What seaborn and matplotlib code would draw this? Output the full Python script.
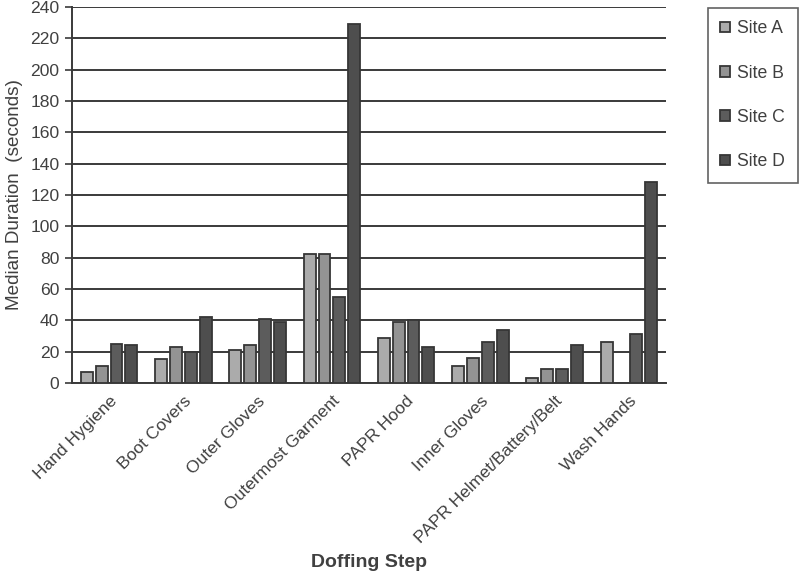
import pandas as pd
import numpy as np
import matplotlib
matplotlib.use("Agg")
import matplotlib.pyplot as plt
import seaborn as sns

# データ
steps = ["Hand Hygiene", "Boot Covers", "Outer Gloves", "Outermost Garment",
         "PAPR Hood", "Inner Gloves", "PAPR Helmet/Battery/Belt", "Wash Hands"]
sites = ["Site A", "Site B", "Site C", "Site D"]
site_a = [7, 15, 21, 82, 29, 11, 3, 26]
site_b = [11, 23, 24, 82, 39, 16, 9, np.nan]
site_c = [25, 20, 41, 55, 40, 26, 9, 31]
site_d = [24, 42, 39, 229, 23, 34, 24, 128]
colors = ["#ababab", "#939393", "#5c5c5c", "#4e4e4e"]

df = pd.DataFrame({"step": steps * 4,
                   "site": np.repeat(sites, len(steps)),
                   "value": site_a + site_b + site_c + site_d})

sns.set_style("white")
plt.rcParams["font.family"] = ["Liberation Sans", "DejaVu Sans"]

fig = plt.figure(figsize=(8, 5.75), dpi=100)
ax = fig.add_axes([0.09, 0.334, 0.7425, 0.654])

sns.barplot(data=df, x="step", y="value", hue="site", order=steps,
            hue_order=sites, palette=colors, width=0.8, gap=0.2,
            edgecolor="#363636", linewidth=1.3, ax=ax, zorder=3)

ax.set_ylim(0, 240)
ax.set_yticks(range(0, 241, 20))
ax.yaxis.grid(True, color="#3a3a3a", linewidth=1.4, zorder=0)
ax.set_axisbelow(True)
for s in ["top", "right"]:
    ax.spines[s].set_visible(False)
for s in ["left", "bottom"]:
    ax.spines[s].set_color("#3a3a3a")
    ax.spines[s].set_linewidth(1.4)
ax.tick_params(axis="y", left=True, length=5, width=1.2, color="#3a3a3a",
               labelsize=12.6, labelcolor="#404040", pad=4)
ax.tick_params(axis="x", bottom=False, labelsize=12.6, labelcolor="#404040", pad=4)
plt.setp(ax.get_xticklabels(), rotation=45, ha="right", rotation_mode="anchor")

ax.set_ylabel("Median Duration  (seconds)", fontsize=13.6, color="#404040", labelpad=5)
ax.set_xlabel("Doffing Step", fontsize=14, fontweight="bold", color="#404040")
ax.xaxis.set_label_coords(0.5, -0.455)

leg = ax.legend(loc="upper left", bbox_to_anchor=(1.07, 0.998), frameon=True,
                fancybox=False, fontsize=12.7, labelspacing=1.55, borderpad=0.72,
                handlelength=0.55, handleheight=0.55, handletextpad=0.4,
                borderaxespad=0)
leg.get_frame().set_edgecolor("#3a3a3a")
leg.get_frame().set_linewidth(1.2)
for t in leg.get_texts():
    t.set_color("#404040")

fig.savefig("out.png", dpi=100)
